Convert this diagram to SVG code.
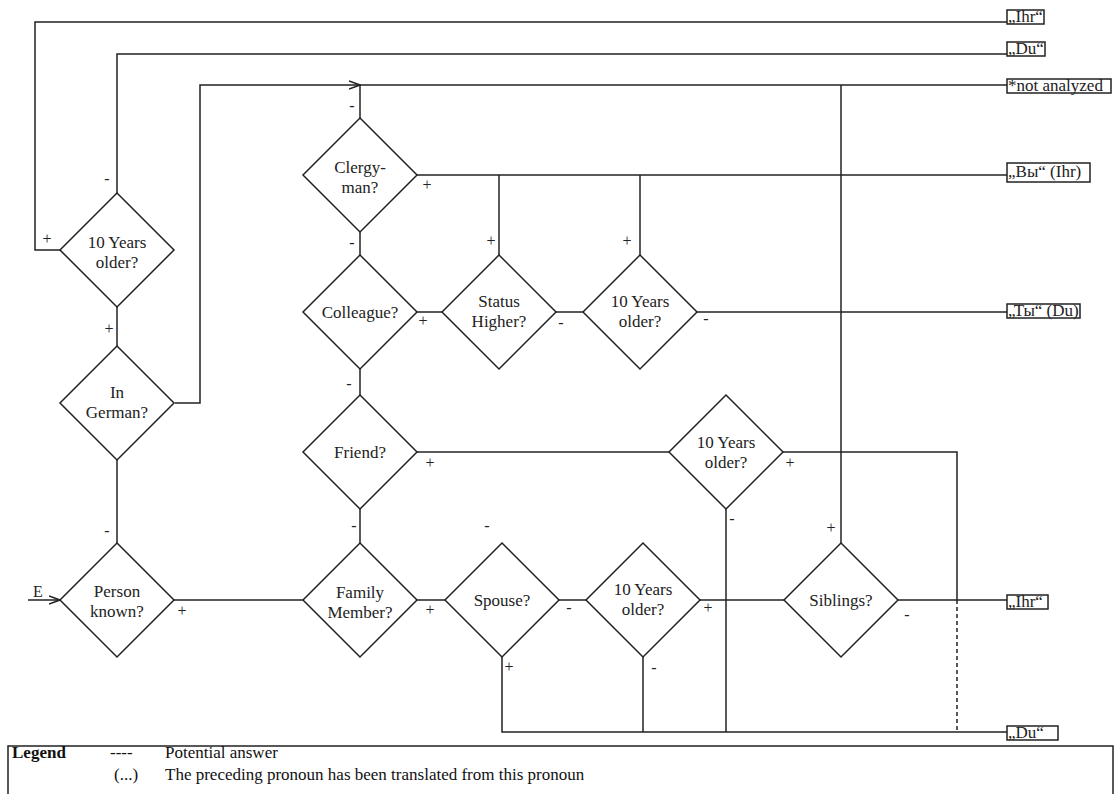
<svg xmlns="http://www.w3.org/2000/svg" width="1115" height="794" viewBox="0 0 1115 794">
<style>
.d{fill:#fff;stroke:#222;stroke-width:1.5}
.c{fill:none;stroke:#222;stroke-width:1.5}
.dash{fill:none;stroke:#222;stroke-width:1.5;stroke-dasharray:4 3}
.t{font-family:"Liberation Serif","Times New Roman",serif;font-size:17px;fill:#222;text-anchor:middle}
.s{font-family:"Liberation Serif","Times New Roman",serif;font-size:16px;fill:#222;text-anchor:middle;dominant-baseline:central}
.bx{fill:#fff;stroke:#222;stroke-width:1.5}
.bt{font-family:"Liberation Serif","Times New Roman",serif;font-size:17px;fill:#222}
.lg{font-family:"Liberation Serif","Times New Roman",serif;font-size:17px;fill:#111}
</style>
<defs>
<marker id="arr" markerWidth="12" markerHeight="10" refX="11" refY="5" orient="auto" markerUnits="userSpaceOnUse">
<path d="M0,1 L11,5 L0,9" fill="none" stroke="#222" stroke-width="1.5"/>
</marker>
</defs>
<rect width="1115" height="794" fill="#fff"/>
<g id="connectors">
<polyline class="c" points="60,250 35,250 35,22 1007,22"/>
<polyline class="c" points="117,193 117,54 1007,54"/>
<polyline class="c" points="175,403 200,403 200,85 360,85" marker-end="url(#arr)"/>
<line class="c" x1="360" y1="85" x2="1007" y2="85"/>
<line class="c" x1="360" y1="85" x2="360" y2="118"/>
<line class="c" x1="417" y1="175" x2="1007" y2="175"/>
<line class="c" x1="499" y1="175" x2="499" y2="255"/>
<line class="c" x1="640" y1="175" x2="640" y2="255"/>
<line class="c" x1="360" y1="232" x2="360" y2="255"/>
<line class="c" x1="417" y1="312" x2="442" y2="312"/>
<line class="c" x1="556" y1="312" x2="583" y2="312"/>
<line class="c" x1="697" y1="312" x2="1007" y2="312"/>
<line class="c" x1="360" y1="369" x2="360" y2="395"/>
<line class="c" x1="417" y1="452" x2="669" y2="452"/>
<polyline class="c" points="783,452 957,452 957,600"/>
<line class="dash" x1="957" y1="600" x2="957" y2="732"/>
<line class="c" x1="360" y1="509" x2="360" y2="543"/>
<line class="c" x1="726" y1="509" x2="726" y2="732"/>
<line class="c" x1="841" y1="85" x2="841" y2="543"/>
<line class="c" x1="117" y1="307" x2="117" y2="346"/>
<line class="c" x1="117" y1="460" x2="117" y2="543"/>
<line class="c" x1="174" y1="600" x2="303" y2="600"/>
<line class="c" x1="417" y1="600" x2="445" y2="600"/>
<line class="c" x1="559" y1="600" x2="586" y2="600"/>
<line class="c" x1="700" y1="600" x2="784" y2="600"/>
<line class="c" x1="898" y1="600" x2="1007" y2="600"/>
<polyline class="c" points="502,657 502,732 1007,732"/>
<line class="c" x1="643" y1="657" x2="643" y2="732"/>
<line class="c" x1="28" y1="600" x2="60" y2="600" marker-end="url(#arr)"/>
</g>
<g id="n-older1"><polygon class="d" points="117,193 174,250 117,307 60,250"/><text class="t" x="117" y="248">10 Years</text><text class="t" x="117" y="268">older?</text></g>
<g id="n-german"><polygon class="d" points="117,346 174,403 117,460 60,403"/><text class="t" x="117" y="398">In</text><text class="t" x="117" y="418">German?</text></g>
<g id="n-known"><polygon class="d" points="117,543 174,600 117,657 60,600"/><text class="t" x="117" y="597">Person</text><text class="t" x="117" y="617">known?</text></g>
<g id="n-clergy"><polygon class="d" points="360,118 417,175 360,232 303,175"/><text class="t" x="360" y="173">Clergy-</text><text class="t" x="360" y="193">man?</text></g>
<g id="n-colleague"><polygon class="d" points="360,255 417,312 360,369 303,312"/><text class="t" x="360" y="318">Colleague?</text></g>
<g id="n-friend"><polygon class="d" points="360,395 417,452 360,509 303,452"/><text class="t" x="360" y="458">Friend?</text></g>
<g id="n-family"><polygon class="d" points="360,543 417,600 360,657 303,600"/><text class="t" x="360" y="598">Family</text><text class="t" x="360" y="618">Member?</text></g>
<g id="n-status"><polygon class="d" points="499,255 556,312 499,369 442,312"/><text class="t" x="499" y="307">Status</text><text class="t" x="499" y="327">Higher?</text></g>
<g id="n-older2"><polygon class="d" points="640,255 697,312 640,369 583,312"/><text class="t" x="640" y="307">10 Years</text><text class="t" x="640" y="327">older?</text></g>
<g id="n-older3"><polygon class="d" points="726,395 783,452 726,509 669,452"/><text class="t" x="726" y="448">10 Years</text><text class="t" x="726" y="468">older?</text></g>
<g id="n-spouse"><polygon class="d" points="502,543 559,600 502,657 445,600"/><text class="t" x="502" y="606">Spouse?</text></g>
<g id="n-older4"><polygon class="d" points="643,543 700,600 643,657 586,600"/><text class="t" x="643" y="595">10 Years</text><text class="t" x="643" y="615">older?</text></g>
<g id="n-siblings"><polygon class="d" points="841,543 898,600 841,657 784,600"/><text class="t" x="841" y="606">Siblings?</text></g>
<g id="out-ihr1"><rect class="bx" x="1007" y="10" width="37" height="14"/><text class="bt" x="1008" y="22">„Ihr“</text></g>
<g id="out-du1"><rect class="bx" x="1007" y="42" width="38" height="14"/><text class="bt" x="1008" y="54">„Du“</text></g>
<g id="out-na"><rect class="bx" x="1007" y="79" width="104" height="14"/><text class="bt" x="1008" y="91">*not analyzed</text></g>
<g id="out-vy"><rect class="bx" x="1007" y="163" width="83" height="19"/><text class="bt" x="1008" y="177">„Вы“ (Ihr)</text></g>
<g id="out-ty"><rect class="bx" x="1007" y="304" width="73" height="14"/><text class="bt" x="1008" y="316">„Ты“ (Du)</text></g>
<g id="out-ihr2"><rect class="bx" x="1007" y="595" width="41" height="14"/><text class="bt" x="1008" y="607">„Ihr“</text></g>
<g id="out-du2"><rect class="bx" x="1007" y="726" width="51" height="14"/><text class="bt" x="1008" y="738">„Du“</text></g>
<g id="labels">
<text class="s" x="47" y="238">+</text>
<text class="s" x="107" y="178">-</text>
<text class="s" x="109" y="328">+</text>
<text class="s" x="107" y="530">-</text>
<text class="s" x="182" y="610">+</text>
<text class="s" x="352" y="105">-</text>
<text class="s" x="427" y="184">+</text>
<text class="s" x="352" y="242">-</text>
<text class="s" x="491" y="240">+</text>
<text class="s" x="627" y="240">+</text>
<text class="s" x="423" y="320">+</text>
<text class="s" x="561" y="322">-</text>
<text class="s" x="706" y="318">-</text>
<text class="s" x="349" y="383">-</text>
<text class="s" x="430" y="462">+</text>
<text class="s" x="790" y="462">+</text>
<text class="s" x="732" y="518">-</text>
<text class="s" x="354" y="525">-</text>
<text class="s" x="487" y="525">-</text>
<text class="s" x="831" y="527">+</text>
<text class="s" x="430" y="609">+</text>
<text class="s" x="569" y="607">-</text>
<text class="s" x="708" y="607">+</text>
<text class="s" x="509" y="666">+</text>
<text class="s" x="654" y="667">-</text>
<text class="s" x="907" y="614">-</text>
<text class="s" x="38" y="591">E</text>
</g>
<g id="legend">
<rect class="bx" x="8" y="746" width="1105" height="60"/>
<text class="lg" x="12" y="758" font-weight="bold">Legend</text>
<text class="lg" x="110" y="758">----</text>
<text class="lg" x="165" y="758">Potential answer</text>
<text class="lg" x="114" y="780">(...)</text>
<text class="lg" x="165" y="780">The preceding pronoun has been translated from this pronoun</text>
</g>
</svg>
